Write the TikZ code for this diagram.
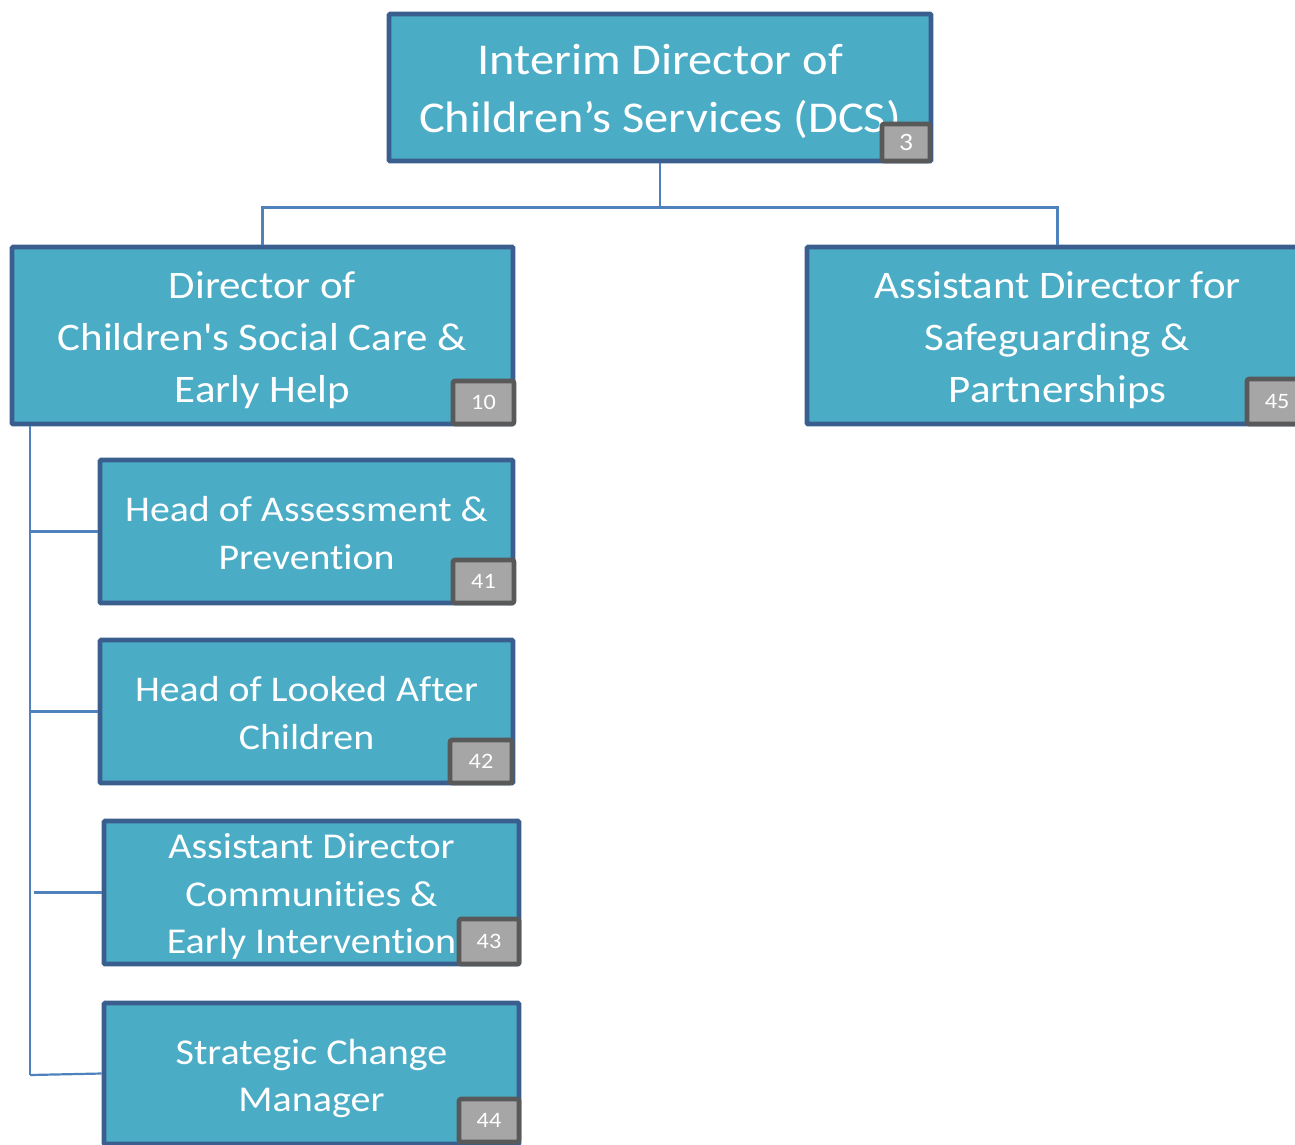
\documentclass[tikz,border=0pt]{standalone}
\usepackage{fontspec}
\setmainfont{Carlito}[FakeStretch=1.1, Ligatures=NoCommon]
\definecolor{boxfill}{HTML}{4BACC6}
\definecolor{boxline}{HTML}{3A5F8E}
\definecolor{badgefill}{HTML}{A6A6A6}
\definecolor{badgeline}{HTML}{595959}
\definecolor{conn}{HTML}{4F81BD}
\begin{document}
\begin{tikzpicture}[x=1pt,y=-1pt,
  orgbox/.style={draw=boxline, fill=boxfill, line width=4.6pt, rounded corners=1pt,
    inner sep=0pt},
  boxtext/.style={inner sep=0pt, text=white, align=center},
  badge/.style={draw=badgeline, fill=badgefill, line width=4.6pt, rounded corners=2pt,
    inner sep=0pt, text=white, font=\fontsize{22}{24}\selectfont},
  link/.style={draw=conn, line width=2.2pt}]
\useasboundingbox (0,0) rectangle (1295,1144);
\clip (0,0) rectangle (1295,1144);
% boxes
\node[orgbox, minimum width=542pt, minimum height=147pt] (top) at (660,87.5) {};
\node[orgbox, minimum width=501pt, minimum height=177pt] (dir) at (262.5,335.5) {};
\node[orgbox, minimum width=501pt, minimum height=177pt] (ads) at (1057.5,335.5) {};
\node[orgbox, minimum width=413pt, minimum height=143pt] (ha) at (306.5,531.5) {};
\node[orgbox, minimum width=413pt, minimum height=143pt] (hla) at (306.5,711.5) {};
\node[orgbox, minimum width=415pt, minimum height=143pt] (adc) at (311.5,892.5) {};
\node[orgbox, minimum width=415pt, minimum height=141pt] (scm) at (311.5,1073.5) {};
% texts
\node[boxtext, font=\fontsize{44}{58}\selectfont] (topt) at ([yshift=-4pt]top.center)
  {Interim Director of\\Children’s Services (DCS)};
\node[boxtext, font=\fontsize{39}{52}\selectfont] (dirt) at ([yshift=-4.5pt]dir.center)
  {Director of\\Children\textquotesingle s Social Care \&\\Early Help};
\node[boxtext, font=\fontsize{39}{52}\selectfont] (adst) at ([yshift=-4.5pt]ads.center)
  {Assistant Director for\\Safeguarding \&\\Partnerships};
\node[boxtext, font=\fontsize{36.2}{48}\selectfont] (hat) at ([yshift=-2pt]ha.center)
  {Head of Assessment \&\\Prevention};
\node[boxtext, font=\fontsize{36.2}{48}\selectfont] (hlat) at ([yshift=-2pt]hla.center)
  {Head of Looked After\\Children};
\node[boxtext, font=\fontsize{36.4}{47.5}\selectfont] (adct) at ([yshift=-4pt]adc.center)
  {Assistant Director\\Communities \&\\Early Intervention};
\node[boxtext, font=\fontsize{36.4}{47}\selectfont] (scmt) at ([yshift=-5pt]scm.center)
  {Strategic Change\\Manager};
% badges
\node[badge, minimum width=48pt, minimum height=37pt, font=\fontsize{25}{28}\selectfont] (b3) at (906,142.5) {3};
\node[badge, minimum width=61pt, minimum height=43pt] (b10) at (483.5,402.5) {10};
\node[badge, minimum width=60pt, minimum height=45pt] (b45) at (1277,401.5) {45};
\node[badge, minimum width=61pt, minimum height=43pt] (b41) at (483.5,581.5) {41};
\node[badge, minimum width=62pt, minimum height=43pt] (b42) at (481,761.5) {42};
\node[badge, minimum width=60pt, minimum height=45pt] (b43) at (489,941.5) {43};
\node[badge, minimum width=60pt, minimum height=43pt] (b44) at (489,1120.5) {44};
% connectors
\coordinate (bus) at (660,207.5);
\coordinate (spine) at (30,426);
\coordinate (spineend) at (30,1075);
\draw[link] (top.south) -- (bus);
\draw[link] (bus) -| (dir.north);
\draw[link] (bus) -| (ads.north);
\draw[link] (spine) -- (spineend);
\draw[link] (spine |- ha.west) -- (ha.west);
\draw[link] (spine |- hla.west) -- (hla.west);
\draw[link] ([xshift=4pt]spine |- adc.west) -- (adc.west);
\draw[link] (spineend) -- (scm.west);
\end{tikzpicture}
\end{document}
